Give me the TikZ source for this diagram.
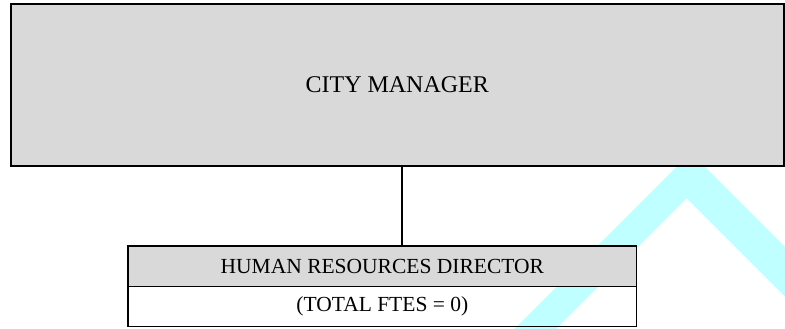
\documentclass[tikz,border=0pt]{standalone}
\usepackage{fontspec}
\setmainfont{Liberation Serif}
\usetikzlibrary{positioning}
\definecolor{boxgray}{RGB}{217,217,217}
\definecolor{wmark}{RGB}{192,255,255}

\begin{document}
\begin{tikzpicture}[
    x=1pt, y=-1pt,
    every node/.style={inner sep=0pt, outer sep=0pt},
    orgbox/.style={draw, line width=1.5pt, fill=boxgray, minimum width=508.7pt, minimum height=40.7pt, font=\fontsize{21.5}{24}\selectfont},
    ftebox/.style={draw, line width=1.5pt, minimum width=508.7pt, minimum height=40pt, font=\fontsize{21.5}{24}\selectfont}
]
    \useasboundingbox (0,0) rectangle (785,329);
    % watermark behind the boxes
    \fill[wmark] (514.3,329) -- (690.8,152.5) -- (785,246.7) -- (785,296.7) -- (686.7,198.3) -- (556,329) -- cycle;

    \node[draw, line width=2pt, fill=boxgray, minimum width=772.5pt, minimum height=161.5pt, font=\fontsize{24}{28}\selectfont] (mgr) at (397.25,84.75) {CITY MANAGER};
    \node[orgbox] (hr) at (382.35,266.35) {HUMAN RESOURCES DIRECTOR};
    \node[ftebox, below=0pt of hr] (fte) {(TOTAL FTES = 0)};

    \coordinate (tap) at (402,0);
    \draw[line width=1.3pt] (tap |- mgr.south) -- (tap |- hr.north);
\end{tikzpicture}
\end{document}
